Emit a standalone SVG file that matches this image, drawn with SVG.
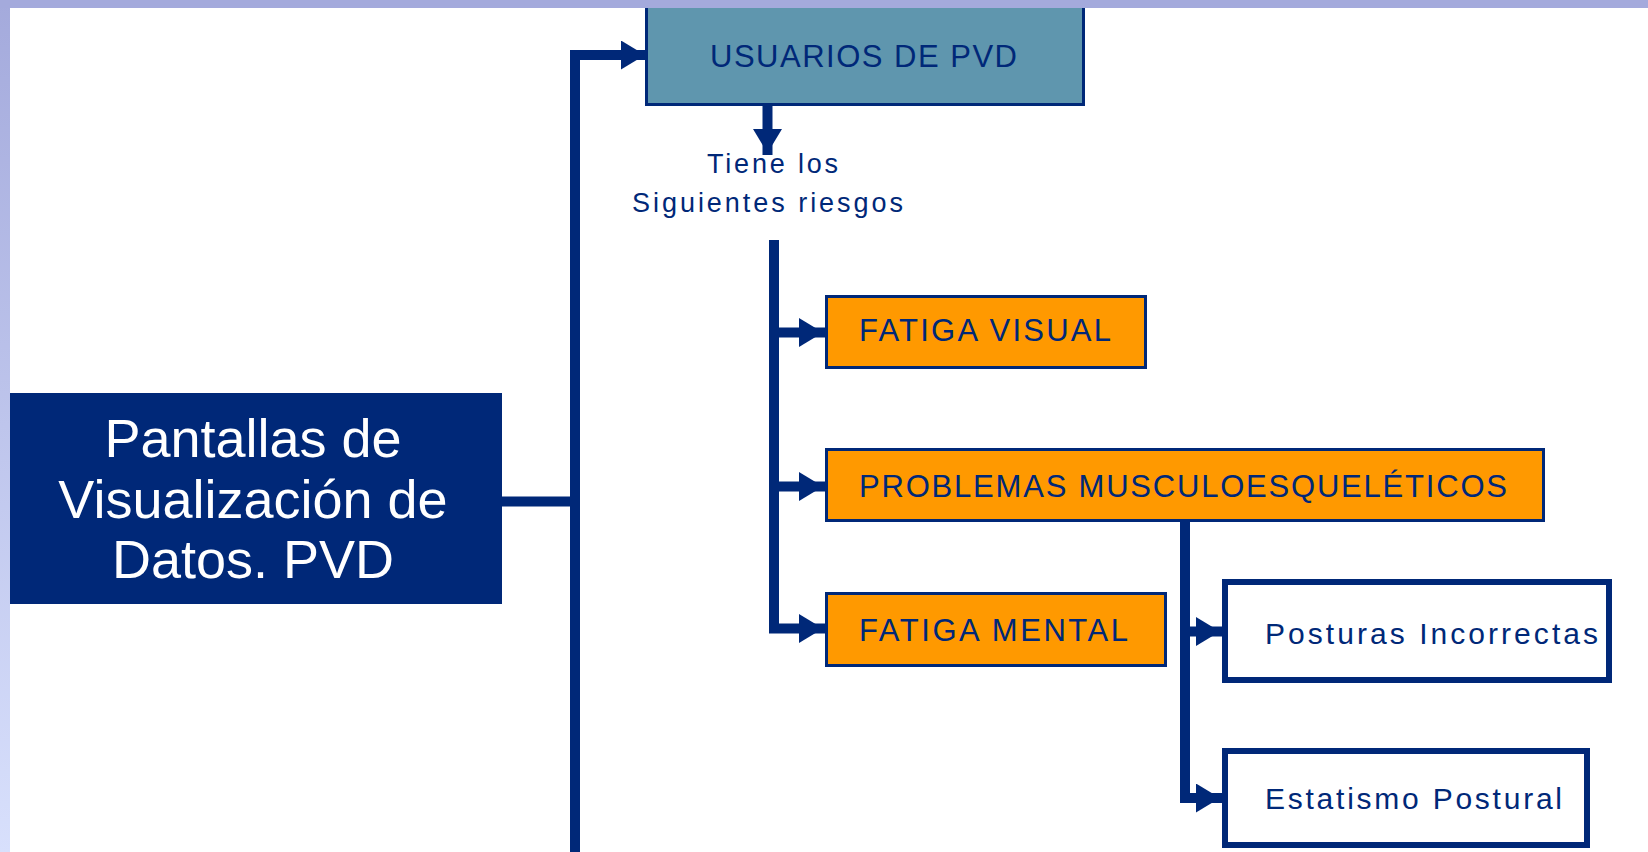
<svg xmlns="http://www.w3.org/2000/svg" width="1648" height="852" viewBox="0 0 1648 852">
<style>
.conn{fill:none;stroke:#002878;stroke-width:10;stroke-linejoin:miter;stroke-linecap:butt}
.box{stroke:#002878;stroke-width:3}
.orange{fill:#FF9900}
.white{fill:#FFFFFF;stroke:#002878;stroke-width:6}
.t{font-family:"Liberation Sans",Arial,sans-serif;fill:#002878}
.big{font-family:"Liberation Sans",Arial,sans-serif;fill:#FFFFFF;font-size:54px;text-anchor:middle}
</style>
<defs>
<linearGradient id="lbar" x1="0" y1="0" x2="0" y2="1">
<stop offset="0" stop-color="#A4AADC"/>
<stop offset="1" stop-color="#D8E0FC"/>
</linearGradient>
<marker id="ah" markerUnits="userSpaceOnUse" viewBox="0 0 26 29" markerWidth="26" markerHeight="29" refX="26" refY="14.5" orient="auto">
<path d="M0,0 L24,14.5 L0,29 Z" fill="#002878"/>
</marker>
</defs>
<rect x="0" y="0" width="1648" height="852" fill="#FFFFFF"/>

<g id="node-pvd">
<rect x="10" y="393" width="492" height="211" fill="#002878"/>
<text class="big" x="253" y="457">Pantallas de</text>
<text class="big" x="253" y="518">Visualización de</text>
<text class="big" x="253" y="578">Datos. PVD</text>
</g>

<g id="node-usuarios">
<rect class="box" x="646.5" y="4" width="437" height="100.5" fill="#5F96AE"/>
<text class="t" x="710" y="66.5" font-size="31" textLength="307" lengthAdjust="spacing">USUARIOS DE PVD</text>
</g>

<g id="label-riesgos">
<text class="t" x="707" y="173" font-size="27" textLength="131" lengthAdjust="spacing">Tiene los</text>
<text class="t" x="632" y="212" font-size="27" textLength="271" lengthAdjust="spacing">Siguientes riesgos</text>
</g>

<g id="node-fatiga-visual">
<rect class="box orange" x="826.5" y="296.5" width="319" height="71"/>
<text class="t" x="859" y="340.5" font-size="31" textLength="252" lengthAdjust="spacing">FATIGA VISUAL</text>
</g>

<g id="node-problemas">
<rect class="box orange" x="826.5" y="449.5" width="717" height="71"/>
<text class="t" x="859" y="496.5" font-size="31" textLength="648" lengthAdjust="spacing">PROBLEMAS MUSCULOESQUELÉTICOS</text>
</g>

<g id="node-fatiga-mental">
<rect class="box orange" x="826.5" y="593.5" width="339" height="72"/>
<text class="t" x="859" y="640.5" font-size="31" textLength="269" lengthAdjust="spacing">FATIGA MENTAL</text>
</g>

<g id="node-posturas">
<rect class="white" x="1225" y="582" width="384" height="98"/>
<text class="t" x="1265" y="643.5" font-size="30" textLength="333" lengthAdjust="spacing">Posturas Incorrectas</text>
</g>

<g id="node-estatismo">
<rect class="white" x="1225" y="751" width="362" height="94"/>
<text class="t" x="1265" y="809" font-size="30" textLength="297" lengthAdjust="spacing">Estatismo Postural</text>
</g>

<g id="connectors">
<path class="conn" d="M502,501.5 H575"/>
<path class="conn" d="M575,852 V55 H647" marker-end="url(#ah)"/>
<path class="conn" d="M767.5,106 V155" stroke-width="9" marker-end="url(#ah)"/>
<path class="conn" d="M774,240 V628.5 H825" marker-end="url(#ah)"/>
<path class="conn" d="M774,332.5 H825" marker-end="url(#ah)"/>
<path class="conn" d="M774,486.5 H825" marker-end="url(#ah)"/>
<path class="conn" d="M1185,522 V798 H1222" marker-end="url(#ah)"/>
<path class="conn" d="M1185,631.5 H1222" marker-end="url(#ah)"/>
</g>

<g id="frame">
<rect x="0" y="0" width="10" height="852" fill="url(#lbar)"/>
<rect x="0" y="0" width="1648" height="8" fill="#A4AADC"/>
</g>
</svg>
